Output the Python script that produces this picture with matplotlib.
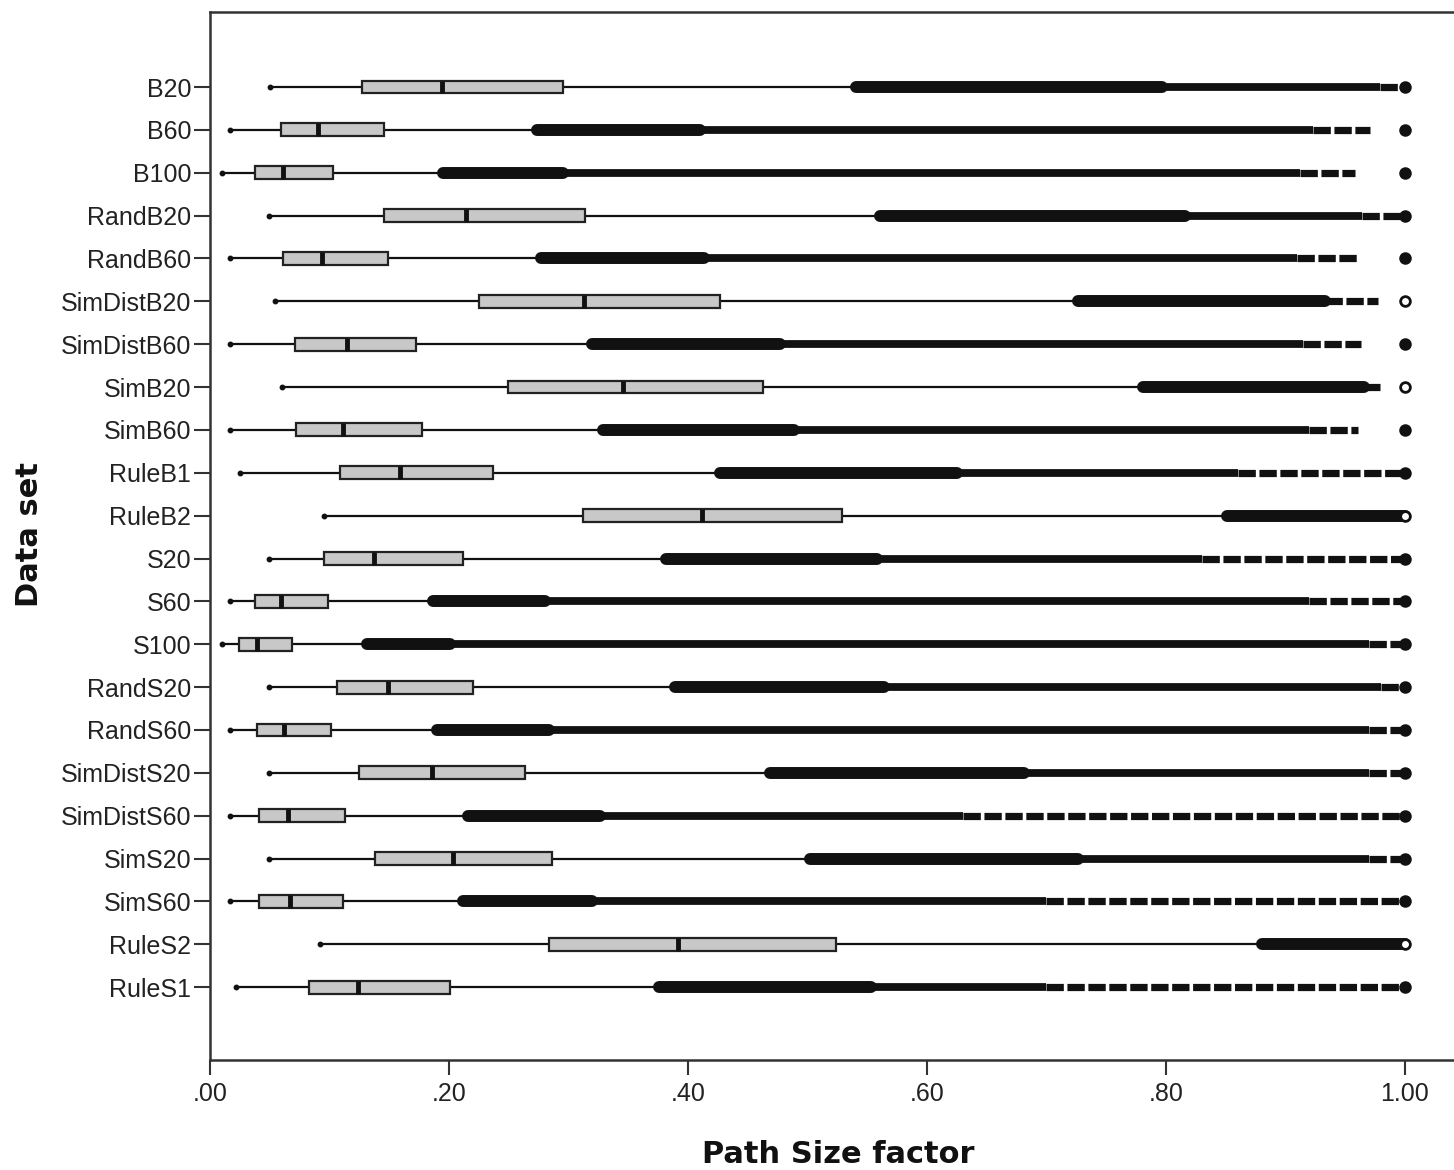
"""Horizontal SPSS-style boxplots of the Path Size factor per data set."""

import matplotlib

matplotlib.use("Agg")
import matplotlib.pyplot as plt

DATASETS = [
    "B20", "B60", "B100", "RandB20", "RandB60", "SimDistB20", "SimDistB60",
    "SimB20", "SimB60", "RuleB1", "RuleB2", "S20", "S60", "S100", "RandS20",
    "RandS60", "SimDistS20", "SimDistS60", "SimS20", "SimS60", "RuleS2", "RuleS1",
]

# box and whiskers
WHISKER_LO = [0.050, 0.017, 0.010, 0.049, 0.017, 0.054, 0.017, 0.060, 0.017, 0.025, 0.095,
              0.049, 0.017, 0.010, 0.049, 0.017, 0.049, 0.017, 0.049, 0.017, 0.092, 0.022]
Q1 = [0.127, 0.059, 0.038, 0.146, 0.061, 0.225, 0.071, 0.249, 0.072, 0.109, 0.312,
      0.095, 0.038, 0.024, 0.106, 0.039, 0.125, 0.041, 0.138, 0.041, 0.284, 0.083]
MEDIAN = [0.194, 0.090, 0.061, 0.214, 0.094, 0.313, 0.115, 0.346, 0.111, 0.159, 0.412,
          0.137, 0.059, 0.039, 0.149, 0.062, 0.186, 0.065, 0.203, 0.067, 0.392, 0.124]
Q3 = [0.295, 0.146, 0.103, 0.314, 0.149, 0.427, 0.172, 0.463, 0.177, 0.237, 0.529,
      0.212, 0.099, 0.069, 0.220, 0.101, 0.264, 0.113, 0.286, 0.111, 0.524, 0.201]
WHISKER_HI = [0.541, 0.274, 0.195, 0.561, 0.277, 0.726, 0.320, 0.781, 0.329, 0.427, 0.851,
              0.382, 0.187, 0.131, 0.389, 0.190, 0.469, 0.216, 0.502, 0.212, 0.880, 0.376]

# outlier clouds: dense band, thinner continuous band, sparse stretch, last point
DENSE_END = [0.797, 0.410, 0.295, 0.816, 0.413, 0.933, 0.477, 0.966, 0.489, 0.625, 1.000,
             0.558, 0.280, 0.201, 0.564, 0.284, 0.681, 0.326, 0.726, 0.320, 1.000, 0.553]
BAND_END = [0.979, 0.923, 0.912, 0.964, 0.910, 0.933, 0.915, 0.966, 0.920, 0.860, 1.000,
            0.830, 0.920, 0.970, 0.980, 0.970, 0.970, 0.630, 0.970, 0.700, 1.000, 0.700]
SPARSE_END = [1.000, 0.971, 0.958, 1.000, 0.960, 0.977, 0.963, 0.979, 0.961, 1.000, 1.000,
              1.000, 1.000, 1.000, 1.000, 1.000, 1.000, 1.000, 1.000, 1.000, 1.000, 1.000]
LAST_OUTLIER = [1.00, 1.00, 1.00, 1.00, 1.00, 1.00, 1.00, 1.00, 1.00, 1.00, 1.00,
                1.00, 1.00, 1.00, 1.00, 1.00, 1.00, 1.00, 1.00, 1.00, 1.00, 1.00]
OPEN_LAST = ["SimDistB20", "SimB20", "RuleB2", "RuleS2"]

X_TICKS = [0.0, 0.2, 0.4, 0.6, 0.8, 1.0]
X_TICK_LABELS = [".00", ".20", ".40", ".60", ".80", "1.00"]

INK = "#111111"
BOX_GREY = "#c8c8c8"
BOX_H = 0.30


def draw_row(ax, y, i):
    lo, q1, med, q3, hi = WHISKER_LO[i], Q1[i], MEDIAN[i], Q3[i], WHISKER_HI[i]
    ax.plot([lo, hi], [y, y], color=INK, lw=1.6, zorder=1)
    ax.plot([lo], [y], "o", ms=3.2, color=INK, zorder=1)
    ax.barh(y, q3 - q1, left=q1, height=BOX_H, color=BOX_GREY,
            edgecolor="#222222", lw=1.6, zorder=2)
    ax.plot([med, med], [y - BOX_H / 2, y + BOX_H / 2], color=INK, lw=3.5,
            solid_capstyle="butt", zorder=3)

    ax.plot([hi, DENSE_END[i]], [y, y], color=INK, lw=8.6,
            solid_capstyle="round", zorder=2)
    if BAND_END[i] > DENSE_END[i]:
        ax.plot([DENSE_END[i], BAND_END[i]], [y, y], color=INK, lw=5.6,
                solid_capstyle="butt", zorder=2)
    if SPARSE_END[i] > BAND_END[i]:
        # speckled stretch of scattered outliers
        ax.plot([BAND_END[i], SPARSE_END[i]], [y, y], color=INK, lw=5.2,
                linestyle=(0, (2.4, 0.5)), dash_capstyle="butt", zorder=2)
    face = "white" if DATASETS[i] in OPEN_LAST else INK
    ax.plot([LAST_OUTLIER[i]], [y], "o", ms=7, mfc=face, mec=INK, mew=2, zorder=4)


def main():
    plt.rcParams["font.family"] = ["Liberation Sans", "DejaVu Sans"]
    fig = plt.figure(figsize=(14.54, 11.70), dpi=100)
    # right edge of the frame runs off the picture, as in the original export
    ax = fig.add_axes([210 / 1454, 1 - 1060 / 1170, 1244 / 1454, 1048 / 1170])

    for i in range(len(DATASETS)):
        draw_row(ax, i, i)

    ax.set_xlim(0, 1244 / 1195)
    ax.set_ylim(len(DATASETS) - 1 + 1.70, -1.75)
    ax.set_yticks(range(len(DATASETS)))
    ax.set_yticklabels(DATASETS)
    ax.set_xticks(X_TICKS)
    ax.set_xticklabels(X_TICK_LABELS)

    for side in ("left", "top", "bottom"):
        ax.spines[side].set_linewidth(1.8)
        ax.spines[side].set_color("#333333")
    ax.spines["right"].set_visible(False)
    ax.tick_params(axis="y", length=11.5, width=1.5, pad=2, labelsize=18,
                   colors="#333333", labelcolor="#222222")
    ax.tick_params(axis="x", length=11, width=1.5, pad=5, labelsize=18,
                   colors="#333333", labelcolor="#222222")

    ax.set_xlabel("Path Size factor", fontsize=22, fontweight="bold",
                  family="DejaVu Sans", color="#111111")
    ax.set_ylabel("Data set", fontsize=22, fontweight="bold",
                  family="DejaVu Sans", color="#111111")
    ax.xaxis.set_label_coords(0.505, -0.0763)
    ax.yaxis.set_label_coords(-0.1334, 0.501)

    fig.savefig("out.png", dpi=100)


if __name__ == "__main__":
    main()
